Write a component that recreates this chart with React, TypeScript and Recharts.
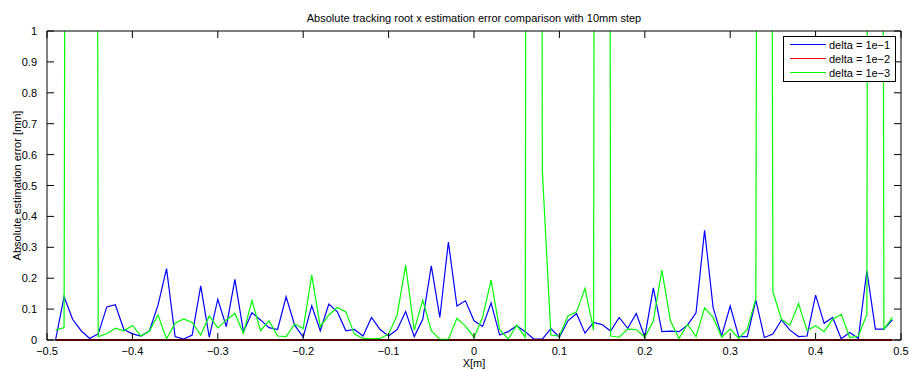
import { LineChart, Line, XAxis, YAxis } from 'recharts'

// sample positions along X, in millimetres (10mm step)
const X_MM = [
  -490, -480, -470, -460, -450, -440, -430, -420, -410, -400,
  -390, -380, -370, -360, -350, -340, -330, -320, -310, -300,
  -290, -280, -270, -260, -250, -240, -230, -220, -210, -200,
  -190, -180, -170, -160, -150, -140, -130, -120, -110, -100,
  -90, -80, -70, -60, -50, -40, -30, -20, -10, 0,
  10, 20, 30, 40, 50, 60, 70, 80, 90, 100,
  110, 120, 130, 140, 150, 160, 170, 180, 190, 200,
  210, 220, 230, 240, 250, 260, 270, 280, 290, 300,
  310, 320, 330, 340, 350, 360, 370, 380, 390, 400,
  410, 420, 430, 440, 450, 460, 470, 480, 490,
]

// absolute error [mm], delta = 1e-1
const DELTA_1E1 = [
  0.0, 0.14, 0.067, 0.03, 0.005, 0.02, 0.107, 0.114, 0.034, 0.02,
  0.013, 0.03, 0.113, 0.231, 0.011, 0.003, 0.016, 0.175, 0.009, 0.132,
  0.043, 0.196, 0.027, 0.088, 0.065, 0.04, 0.034, 0.14, 0.048, 0.009,
  0.111, 0.03, 0.116, 0.091, 0.03, 0.034, 0.013, 0.073, 0.034, 0.013,
  0.034, 0.092, 0.011, 0.067, 0.24, 0.073, 0.317, 0.11, 0.127, 0.062,
  0.044, 0.12, 0.016, 0.027, 0.046, 0.027, 0.003, 0.003, 0.037, 0.009,
  0.062, 0.086, 0.022, 0.057, 0.05, 0.029, 0.073, 0.038, 0.086, 0.009,
  0.169, 0.027, 0.029, 0.027, 0.048, 0.088, 0.355, 0.105, 0.013, 0.11,
  0.011, 0.011, 0.129, 0.008, 0.019, 0.065, 0.032, 0.011, 0.013, 0.145,
  0.054, 0.073, 0.004, 0.024, 0.005, 0.224, 0.035, 0.035, 0.065,
]

// delta = 1e-2
const DELTA_1E2 = [
  0, 0, 0, 0, 0, 0, 0, 0, 0, 0,
  0, 0, 0, 0, 0, 0, 0, 0, 0, 0,
  0, 0, 0, 0, 0, 0, 0, 0, 0, 0,
  0, 0, 0, 0, 0, 0, 0, 0, 0, 0,
  0, 0, 0, 0, 0, 0, 0, 0, 0, 0,
  0, 0, 0, 0, 0, 0, 0, 0, 0, 0,
  0, 0, 0, 0, 0, 0, 0, 0, 0, 0,
  0, 0, 0, 0, 0, 0, 0, 0, 0, 0,
  0, 0, 0, 0, 0, 0, 0, 0, 0, 0,
  0, 0, 0, 0, 0, 0, 0, 0, 0,
]

// delta = 1e-3 (the spikes run far off the top of the axes)
const DELTA_1E3 = [
  0.032, 0.04, 14, 22, 16, 0.011, 0.02, 0.038, 0.03, 0.047,
  0.013, 0.029, 0.081, 0.004, 0.054, 0.068, 0.057, 0.016, 0.078, 0.039,
  0.065, 0.086, 0.021, 0.128, 0.03, 0.062, 0.013, 0.011, 0.052, 0.037,
  0.21, 0.043, 0.081, 0.105, 0.091, 0.019, 0.005, 0.004, 0.005, 0.019,
  0.081, 0.242, 0.032, 0.129, 0.03, 0.002, 0.002, 0.07, 0.045, 0.009,
  0.073, 0.194, 0.034, 0.003, 0.048, 0.009, 20, 0.55, 0.016, 0.013,
  0.078, 0.091, 0.167, 0.032, 18, 0.013, 0.009, 0.035, 0.034, 0.009,
  0.062, 0.226, 0.062, 0.005, 0.051, 0.011, 0.104, 0.073, 0.009, 0.035,
  0.005, 0.035, 0.134, 12, 0.156, 0.067, 0.048, 0.118, 0.03, 0.046,
  0.027, 0.067, 0.083, 0.008, 0.013, 0.083, 15, 0.035, 0.073,
]

const X_TICKS = [-0.5, -0.4, -0.3, -0.2, -0.1, 0, 0.1, 0.2, 0.3, 0.4, 0.5]
const Y_TICKS = [0, 0.1, 0.2, 0.3, 0.4, 0.5, 0.6, 0.7, 0.8, 0.9, 1]

// clip: only the 1e-3 series leaves the axes, so only it goes on the clipping axis pair
const SERIES = [
  { key: 'd1', name: 'delta = 1e\u22121', color: '#0000ff', legend: '#0000ff', width: 1.2, clip: false },
  { key: 'd2', name: 'delta = 1e\u22122', color: '#a80000', legend: '#ff0000', width: 2, clip: false },
  { key: 'd3', name: 'delta = 1e\u22123', color: '#00ff00', legend: '#00ff00', width: 1.2, clip: true },
]

const rows = X_MM.map((mm, i) => ({
  x: mm / 1000,
  d1: DELTA_1E1[i],
  d2: DELTA_1E2[i],
  d3: DELTA_1E3[i],
}))

const FONT = '"Liberation Sans", Arial, Helvetica, sans-serif'
const TICK = 7

const fmt = (v: number) => String(Math.round(v * 10) / 10).replace('-', '\u2212')

function BottomTick({ x, y, payload }: any) {
  return (
    <g>
      <line x1={x} y1={y} x2={x} y2={y - TICK} stroke="#000" />
      <text x={x} y={y + 15} textAnchor="middle" fontSize={11} fontFamily={FONT} fill="#000">
        {fmt(payload.value)}
      </text>
    </g>
  )
}

function TopTick({ x, y }: any) {
  return <line x1={x} y1={y} x2={x} y2={y + TICK} stroke="#000" />
}

function LeftTick({ x, y, payload }: any) {
  return (
    <g>
      <line x1={x} y1={y} x2={x + TICK} y2={y} stroke="#000" />
      <text x={x - 10} y={y + 4} textAnchor="end" fontSize={11} fontFamily={FONT} fill="#000">
        {fmt(payload.value)}
      </text>
    </g>
  )
}

function RightTick({ x, y }: any) {
  return <line x1={x} y1={y} x2={x - TICK} y2={y} stroke="#000" />
}

// title, axis labels and legend drawn on top of the chart
function Overlay() {
  return (
    <svg width={909} height={371} style={{ position: 'absolute', left: 0, top: 0, pointerEvents: 'none' }}>
      <text x={474} y={22} textAnchor="middle" fontSize={11} fontFamily={FONT} fill="#000">
        Absolute tracking root x estimation error comparison with 10mm step
      </text>
      <text x={474} y={367} textAnchor="middle" fontSize={11} fontFamily={FONT} fill="#000">
        X[m]
      </text>
      <text
        x={0} y={0} transform="translate(21 185.5) rotate(-90)" textAnchor="middle"
        fontSize={11} fontFamily={FONT} fill="#000"
      >
        Absolute estimation error [mm]
      </text>
      <rect x={783.5} y={36.5} width={112} height={45} fill="#fff" stroke="#000" />
      {SERIES.map((s, i) => (
        <g key={s.key}>
          <line x1={790} x2={826} y1={44.5 + i * 14} y2={44.5 + i * 14} stroke={s.legend} strokeWidth={1.2} />
          <text x={829} y={48.5 + i * 14} fontSize={11} fontFamily={FONT} fill="#000">
            {s.name}
          </text>
        </g>
      ))}
    </svg>
  )
}

export default function App() {
  return (
    <div style={{ position: 'absolute', left: 0, top: 0, width: 909, height: 371, background: '#fff' }}>
      <LineChart width={909} height={371} data={rows} margin={{ top: 30, right: 7, bottom: 30, left: 46 }}>
        <XAxis
          xAxisId="b" dataKey="x" type="number" domain={[-0.5, 0.5]} ticks={X_TICKS} interval={0}
          height={1} tickSize={0} tickMargin={0} tickLine={false} stroke="#000" tick={<BottomTick />}
          allowDataOverflow
        />
        <XAxis
          xAxisId="t" orientation="top" dataKey="x" type="number" domain={[-0.5, 0.5]} ticks={X_TICKS}
          interval={0} height={1} tickSize={0} tickMargin={0} tickLine={false} stroke="#000" tick={<TopTick />}
        />
        <YAxis
          yAxisId="l" type="number" domain={[0, 1]} ticks={Y_TICKS} interval={0} width={1}
          tickSize={0} tickMargin={0} tickLine={false} stroke="#000" tick={<LeftTick />} allowDataOverflow
        />
        <YAxis
          yAxisId="r" orientation="right" type="number" domain={[0, 1]} ticks={Y_TICKS} interval={0} width={1}
          tickSize={0} tickMargin={0} tickLine={false} stroke="#000" tick={<RightTick />}
        />
        {SERIES.map((s) => (
          <Line
            key={s.key} xAxisId={s.clip ? 'b' : 't'} yAxisId={s.clip ? 'l' : 'r'} dataKey={s.key} name={s.name}
            stroke={s.color} strokeWidth={s.width} dot={false} activeDot={false} isAnimationActive={false}
          />
        ))}
      </LineChart>
      <Overlay />
    </div>
  )
}
